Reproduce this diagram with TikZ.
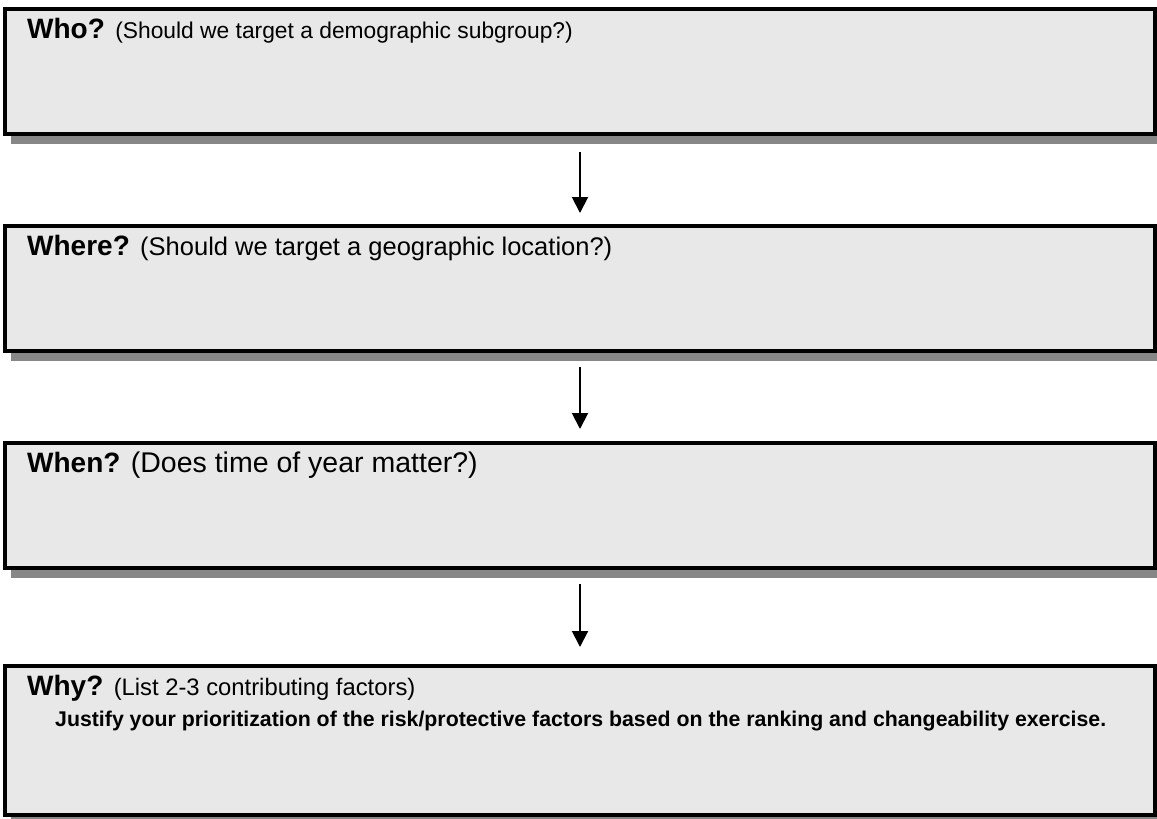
\documentclass[tikz,border=0pt]{standalone}
\usepackage{fontspec}
\setmainfont{Liberation Sans}
\usetikzlibrary{arrows.meta,shadows}
\definecolor{boxfill}{HTML}{E8E8E8}
\definecolor{shadowgray}{HTML}{878787}
\tikzset{
  qbox/.style={draw=black, line width=4pt, fill=boxfill, rectangle, minimum width=1150pt, inner sep=0pt,
    general shadow={fill=shadowgray, draw=shadowgray, line width=4pt, shadow xshift=8pt, shadow yshift=-8pt}},
  qtext/.style={anchor=base west, inner sep=0pt, font=\fontsize{28}{32}\selectfont},
  subtext/.style={anchor=base west, inner sep=0pt, font=\bfseries\fontsize{21.3}{25}\selectfont},
  arr/.style={line width=2pt, -{Triangle[width=16pt,length=16pt]}}
}
\newcommand{\paren}[2]{{\fontsize{#1}{#1}\selectfont #2}}
\begin{document}
\begin{tikzpicture}[x=1pt,y=-1pt]
\useasboundingbox (0,0) rectangle (1157,819);
\node[qbox, minimum height=125pt] (box1) at (580,71.5) {};
\node[qbox, minimum height=125pt] (box2) at (580,288.5) {};
\node[qbox, minimum height=125pt] (box3) at (580,505.5) {};
\node[qbox, minimum height=149pt] (box4) at (580,740.5) {};
\node[qtext] (t1) at ([xshift=24pt,yshift=-31pt]box1.north west) {\textbf{Who?} \paren{22.8}{(Should we target a demographic subgroup?)}};
\node[qtext] (t2) at ([xshift=24pt,yshift=-31pt]box2.north west) {\textbf{Where?} \paren{25.5}{(Should we target a geographic location?)}};
\node[qtext] (t3) at ([xshift=24pt,yshift=-31pt]box3.north west) {\textbf{When?} \paren{28.5}{(Does time of year matter?)}};
\node[qtext] (t4) at ([xshift=24pt,yshift=-31pt]box4.north west) {\textbf{Why?} \paren{23.8}{(List 2-3 contributing factors)}};
\node[subtext] (t5) at ([xshift=52pt,yshift=-62pt]box4.north west) {Justify your prioritization of the risk/protective factors based on the ranking and changeability exercise.};
\draw[arr] ([yshift=-16pt]box1.south) -- ([yshift=11pt]box2.north);
\draw[arr] ([yshift=-14pt]box2.south) -- ([yshift=12pt]box3.north);
\draw[arr] ([yshift=-14pt]box3.south) -- ([yshift=17pt]box4.north);
\end{tikzpicture}
\end{document}
